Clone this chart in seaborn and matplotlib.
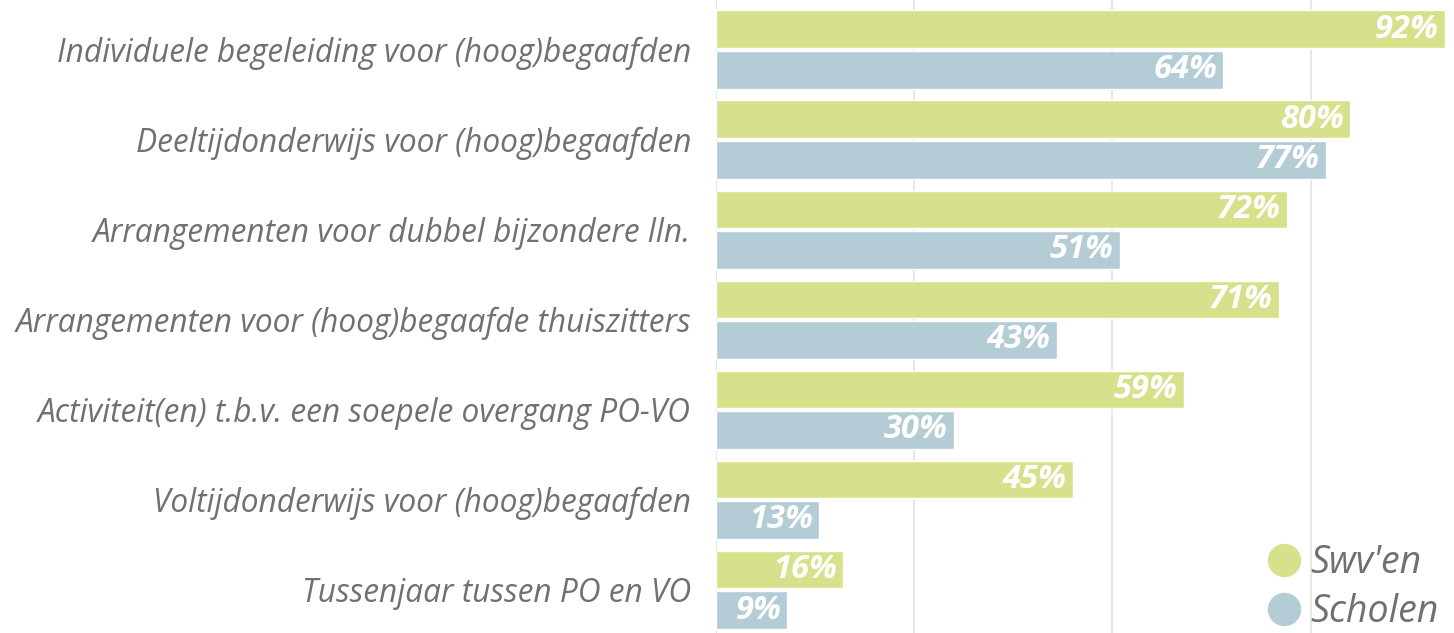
import matplotlib
matplotlib.use("Agg")
import matplotlib.pyplot as plt
import seaborn as sns
import pandas as pd

categories = [
    "Individuele begeleiding voor (hoog)begaafden",
    "Deeltijdonderwijs voor (hoog)begaafden",
    "Arrangementen voor dubbel bijzondere lln.",
    "Arrangementen voor (hoog)begaafde thuiszitters",
    "Activiteit(en) t.b.v. een soepele overgang PO-VO",
    "Voltijdonderwijs voor (hoog)begaafden",
    "Tussenjaar tussen PO en VO",
]
swv = [92, 80, 72, 71, 59, 45, 16]
scholen = [64, 77, 51, 43, 30, 13, 9]
series = ["Swv'en", "Scholen"]
colors = ["#d7e08a", "#b3ccd6"]
text_grey = "#707070"

df = pd.DataFrame({
    "categorie": categories * 2,
    "waarde": swv + scholen,
    "groep": [series[0]] * len(categories) + [series[1]] * len(categories),
})

sns.set_style("white")
plt.rcParams["font.family"] = ["Open Sans", "DejaVu Sans"]

fig = plt.figure(figsize=(14.54, 6.33), dpi=100)
ax = fig.add_axes([716 / 1454, 0, 738 / 1454, 1])

sns.barplot(data=df, y="categorie", x="waarde", hue="groep", order=categories,
            hue_order=series, palette=colors, orient="h", width=0.9, gap=0.07,
            saturation=1, ax=ax, legend=False, zorder=3)

ax.set_xlim(0, 93.1)
ax.set_ylim(6.48, -0.55)
ax.set_xticks([0, 25, 50, 75])
ax.xaxis.grid(True, color="#e3e3e3", linewidth=1.2, zorder=0)
ax.set_xticklabels([])
ax.tick_params(axis="x", length=0)
ax.set_xlabel("")
ax.set_ylabel("")
for s in ax.spines.values():
    s.set_visible(False)

ax.tick_params(axis="y", length=0, pad=18)
for lbl in ax.get_yticklabels():
    lbl.set_fontsize(22.8)
    lbl.set_style("italic")
    lbl.set_color(text_grey)

for cont in ax.containers:
    for p in cont.patches:
        w = p.get_width()
        ax.text(w - 0.8, p.get_y() + p.get_height() / 2, f"{w:.0f}%",
                ha="right", va="center", color="white", fontsize=23.5,
                fontweight="bold", style="italic", zorder=4)

handles = [plt.Line2D([], [], marker="o", linestyle="", markersize=23,
                      markerfacecolor=c, markeredgecolor=c) for c in colors]
ax.legend(handles, series, loc="lower right", frameon=False,
          bbox_to_anchor=(1.025, -0.05), handletextpad=-0.3, labelspacing=0.3,
          prop={"size": 27, "style": "italic"}, labelcolor=text_grey)

fig.savefig("out.png", dpi=100)
